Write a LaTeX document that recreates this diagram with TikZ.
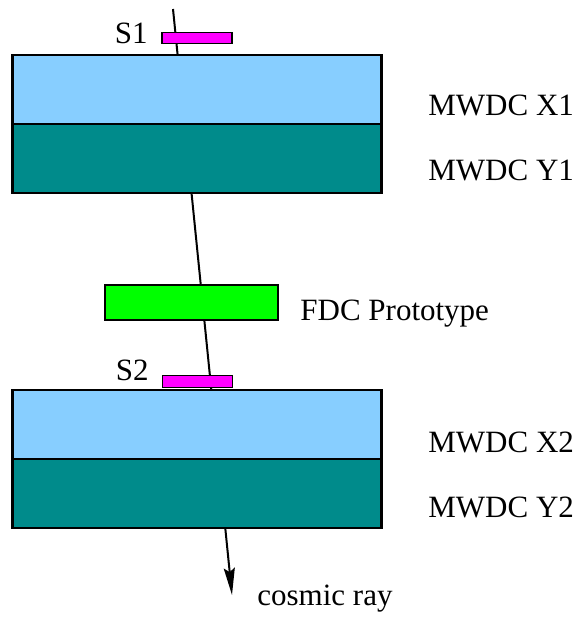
\documentclass[tikz,border=0pt]{standalone}
\usepackage{fontspec}
\setmainfont{Liberation Serif}
\newfontfamily\labelfont{Liberation Serif}
\usetikzlibrary{arrows.meta}
\definecolor{wirex}{HTML}{87CEFF}
\definecolor{wirey}{HTML}{008B8B}
\definecolor{scint}{HTML}{FF00FF}
\definecolor{fdc}{HTML}{00FF00}
\tikzset{
	chamber/.style={draw=black, line width=1.2pt, inner sep=0pt, minimum width=184.5pt, minimum height=34.5pt},
	paddle/.style={draw=black, fill=scint, line width=0.6pt, inner sep=0pt, minimum width=35pt, minimum height=5.8pt},
	lbl/.style={inner sep=0pt, font=\labelfont\fontsize{15.5}{18}\selectfont}
}

\begin{document}
\begin{tikzpicture}[x=0.5pt, y=-0.5pt]
			\useasboundingbox (0,0) rectangle (582,617);
			\coordinate (top) at (173,9);
			\coordinate (tip) at (232,595);
			\draw[line width=1pt, -{Stealth[length=13.5pt, width=5.5pt, inset=2pt]}] (top) -- (tip);
			\node[chamber, fill=wirex] (x1) at (197,89.5) {};
			\node[chamber, fill=wirey] (y1) at (197,158.5) {};
			\node[chamber, fill=wirex] (x2) at (197,424.5) {};
			\node[chamber, fill=wirey] (y2) at (197,493.5) {};
			\node[paddle] (s1) at (197,38) {};
			\node[paddle] (s2) at (197.5,381.5) {};
			\node[draw=black, fill=fdc, line width=0.6pt, inner sep=0pt, minimum width=86.5pt, minimum height=17.5pt] (fdc) at (191.5,302.5) {};
			\node[lbl, anchor=base east] (s1lbl) at (148,43) {S1};
			\node[lbl, anchor=base east] (s2lbl) at (149,380) {S2};
			\node[lbl, anchor=base west] (x1lbl) at (428,115) {MWDC X1};
			\node[lbl, anchor=base west] (y1lbl) at (428,180) {MWDC Y1};
			\node[lbl, anchor=base west] (fdclbl) at (300,320) {FDC Prototype};
			\node[lbl, anchor=base west] (x2lbl) at (428,452) {MWDC X2};
			\node[lbl, anchor=base west] (y2lbl) at (428,517) {MWDC Y2};
			\node[lbl, anchor=base west] (raylbl) at (257,605) {cosmic ray};
		\end{tikzpicture}
\end{document}
